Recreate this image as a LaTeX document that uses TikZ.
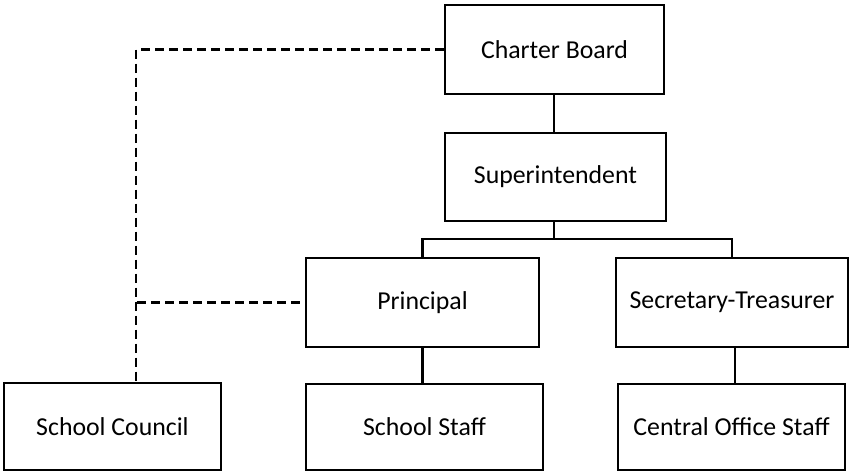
\documentclass[tikz,border=0pt]{standalone}
\usepackage{fontspec}
\setmainfont{Carlito}
\begin{document}
\begin{tikzpicture}[x=1pt,y=-1pt,
  orgbox/.style={draw, line width=2.2pt, rectangle, inner sep=0pt, font=\fontsize{25.8}{30}\selectfont},
  link/.style={line width=2.2pt},
  dashlink/.style={line width=2.2pt, dash pattern=on 9pt off 5pt}]
\useasboundingbox (0,0) rectangle (849,472);
\node[orgbox, minimum width=219pt, minimum height=89pt] (cb) at (554.5,49.5) {Charter Board};
\node[orgbox, minimum width=221pt, minimum height=88pt] (sup) at (555.5,177) {Superintendent};
\node[orgbox, minimum width=233pt, minimum height=89pt] (prin) at (422.5,302.5) {Principal};
\node[orgbox, minimum width=232pt, minimum height=89pt] (sec) at (732,302.5) {Secretary-Treasurer};
\node[orgbox, minimum width=217pt, minimum height=87pt] (sc) at (112.5,426.5) {School Council};
\node[orgbox, minimum width=237pt, minimum height=86pt] (ss) at (424.5,427) {School Staff};
\node[orgbox, minimum width=227pt, minimum height=86pt] (cos) at (731.5,427) {Central Office Staff};
\coordinate (bar) at (554,239);
\coordinate (dv) at (136,0);
\draw[link] (cb.south -| bar) -- (sup.north -| bar);
\draw[link] (sup.south -| bar) -- (bar);
\draw[link] (prin.north) |- (bar) -| (sec.north);
\draw[link] (prin.south) -- (prin.south |- ss.north);
\draw[link] ([xshift=3pt]sec.south) -- ([xshift=3pt]sec.south |- cos.north);
\draw[dashlink] (cb.west) -| (dv |- sc.north);
\draw[dashlink] ([xshift=-5pt]prin.west) -- (dv |- prin.west);
\end{tikzpicture}
\end{document}
